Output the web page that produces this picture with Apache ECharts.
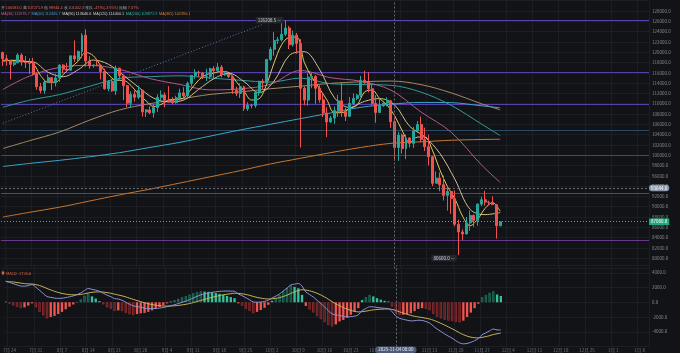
<!DOCTYPE html>
<html>
<head>
<meta charset="utf-8">
<title>BTC 日线</title>
<script src="https://cdn.jsdelivr.net/npm/echarts@6.0.0/dist/echarts.min.js"></script>
<style>
  html, body { margin: 0; padding: 0; background: #121316; }
  #chart { width: 680px; height: 353px; }
</style>
</head>
<body>
<div id="chart"></div>
<script>
// daily candles from 2025-07-23, prices in thousands of USDT
const firstDay = Date.UTC(2025, 6, 23)
const dayCount = 172

const opens = [119.95, 118.75, 118.35, 117.63, 117.95, 119.45, 118.06, 117.95, 117.84, 115.76,
  113.30, 112.55, 114.20, 115.05, 114.10, 114.99, 117.50, 116.70, 116.50, 119.30,
  118.70, 120.15, 123.30, 118.30, 117.35, 117.50, 117.45, 116.25, 112.90, 114.30,
  112.50, 116.90, 115.40, 113.50, 110.10, 111.80, 111.25, 112.60, 108.40, 108.80,
  108.25, 109.25, 111.25, 111.70, 110.70, 110.65, 110.20, 111.15, 112.10, 111.55,
  113.95, 115.50, 116.10, 115.95, 115.30, 115.30, 116.80, 116.45, 117.10, 115.65,
  115.70, 115.25, 112.65, 111.98, 113.30, 109.00, 109.65, 109.65, 112.15, 114.35,
  114.05, 118.60, 120.55, 122.25, 122.40, 123.50, 124.70, 121.45, 123.30, 121.70,
  113.00, 110.70, 115.15, 115.30, 113.00, 110.75, 108.20, 106.45, 107.20, 108.65,
  110.55, 108.45, 107.55, 110.05, 111.00, 111.65, 114.55, 114.10, 112.90, 110.05,
  108.30, 109.60, 110.10, 110.55, 106.50, 101.50, 103.90, 101.30, 103.35, 102.30,
  104.70, 105.95, 103.05, 101.65, 99.70, 94.55, 95.55, 94.25, 92.20, 92.95,
  91.55, 86.60, 85.10, 84.70, 86.85, 88.30, 87.35, 90.50, 91.35, 90.90,
  90.85, 90.40, 86.30]
const closes = [118.75, 118.35, 117.63, 117.95, 119.45, 118.06, 117.95, 117.84, 115.76, 113.30,
  112.55, 114.20, 115.05, 114.10, 114.99, 117.50, 116.70, 116.50, 119.30, 118.70,
  120.15, 123.30, 118.30, 117.35, 117.50, 117.45, 116.25, 112.90, 114.30, 112.50,
  116.90, 115.40, 113.50, 110.10, 111.80, 111.25, 112.60, 108.40, 108.80, 108.25,
  109.25, 111.25, 111.70, 110.70, 110.65, 110.20, 111.15, 112.10, 111.55, 113.95,
  115.50, 116.10, 115.95, 115.30, 115.30, 116.80, 116.45, 117.10, 115.65, 115.70,
  115.25, 112.65, 111.98, 113.30, 109.00, 109.65, 109.65, 112.15, 114.35, 114.05,
  118.60, 120.55, 122.25, 122.40, 123.50, 124.70, 121.45, 123.30, 121.70, 113.00,
  110.70, 115.15, 115.30, 113.00, 110.75, 108.20, 106.45, 107.20, 108.65, 110.55,
  108.45, 107.55, 110.05, 111.00, 111.65, 114.55, 114.10, 112.90, 110.05, 108.30,
  109.60, 110.10, 110.55, 106.50, 101.50, 103.90, 101.30, 103.35, 102.30, 104.70,
  105.95, 103.05, 101.65, 99.70, 94.55, 95.55, 94.25, 92.20, 92.95, 91.55,
  86.60, 85.10, 84.70, 86.85, 88.30, 87.35, 90.50, 91.35, 90.90, 90.85,
  90.40, 86.30, 87.0764]
const highs = [120.10, 119.50, 118.45, 118.30, 119.80, 119.80, 119.25, 118.80, 118.90, 116.10,
  114.00, 114.50, 115.70, 115.10, 115.80, 117.65, 117.70, 117.90, 119.30, 122.30,
  120.30, 123.70, 124.45, 119.20, 117.65, 118.60, 117.55, 116.80, 114.60, 114.80,
  117.40, 117.00, 115.70, 113.65, 112.40, 112.60, 113.50, 112.70, 108.95, 109.50,
  109.90, 111.80, 112.60, 112.20, 113.40, 111.30, 111.55, 112.90, 113.20, 114.30,
  115.40, 116.70, 116.40, 116.10, 116.80, 117.00, 117.30, 117.90, 117.50, 116.30,
  115.90, 115.40, 113.30, 113.95, 113.50, 110.30, 109.90, 112.40, 114.45, 114.80,
  118.65, 121.00, 123.90, 122.95, 125.70, 126.2085, 125.10, 124.20, 123.75, 122.55,
  113.35, 115.90, 116.00, 115.55, 113.60, 111.95, 109.30, 107.60, 109.45, 111.70,
  114.00, 109.20, 111.30, 112.00, 111.90, 115.40, 116.40, 116.10, 113.65, 111.65,
  111.20, 110.55, 111.25, 110.75, 107.30, 104.55, 104.20, 104.00, 103.45, 105.50,
  106.65, 107.50, 105.35, 104.00, 99.85, 96.85, 96.65, 96.05, 93.85, 92.95,
  93.15, 87.50, 85.60, 88.00, 89.25, 88.50, 90.65, 91.95, 93.10, 91.15,
  92.00, 90.45, 87.10]
const lows = [117.30, 117.40, 114.70, 117.30, 117.85, 117.40, 116.95, 115.80, 115.50, 112.70,
  112.00, 111.90, 114.10, 112.65, 113.35, 114.25, 115.90, 116.30, 116.50, 118.10,
  118.20, 118.90, 117.20, 116.80, 117.00, 117.25, 114.70, 112.70, 112.40, 112.30,
  111.70, 114.70, 110.70, 109.30, 109.30, 110.40, 110.90, 107.50, 107.40, 108.00,
  107.30, 108.40, 110.60, 109.30, 110.20, 109.90, 110.00, 110.60, 110.80, 110.90,
  113.45, 114.80, 115.20, 114.80, 114.40, 114.80, 114.70, 116.20, 115.10, 115.40,
  115.00, 111.90, 111.50, 111.10, 108.60, 108.60, 109.10, 109.20, 111.50, 112.70,
  113.95, 118.30, 119.30, 121.60, 122.10, 123.10, 120.60, 121.10, 119.70, 101.50,
  109.70, 109.60, 113.00, 110.00, 110.20, 107.40, 103.50, 106.30, 106.10, 107.45,
  107.45, 106.65, 107.50, 109.70, 110.70, 111.25, 113.85, 112.20, 109.80, 106.30,
  108.20, 109.40, 109.50, 105.30, 98.95, 98.90, 100.30, 99.25, 101.50, 101.40,
  104.30, 102.50, 100.80, 98.00, 94.00, 94.55, 93.00, 91.20, 89.25, 88.60,
  86.20, 80.60, 83.50, 84.65, 85.30, 86.10, 86.30, 90.10, 90.20, 90.25,
  90.35, 83.80, 86.20]

// moving averages
const ma5 = [118.26, 118.42, 118.43, 118.21, 117.81, 115.48, 114.17, 114.18, 115.67, 117.0,
  118.27, 119.95, 119.32, 117.37, 115.68, 114.57, 114.52, 113.54, 111.85, 110.57,
  109.46, 109.85, 110.71, 110.88, 111.13, 112.85, 114.61, 115.63, 115.96, 116.26,
  116.03, 114.25, 112.44, 110.72, 110.96, 113.76, 117.96, 121.46, 122.86, 122.93,
  118.03, 115.17, 112.98, 110.74, 108.25, 108.26, 109.05, 109.74, 112.27, 112.65,
  110.99, 109.72, 107.65, 104.75, 102.47, 103.52, 103.53, 100.98, 97.14, 93.9,
  91.51, 88.18, 86.31, 87.54, 89.68, 90.8, 89.11]
const ma10 = [118.45, 118.26, 118.12, 116.09, 115.25, 116.6, 118.48, 117.66, 115.52, 113.2,
  111.08, 110.36, 110.7, 112.8, 114.85, 115.91, 114.29, 112.15, 114.4, 119.36,
  120.1, 116.73, 111.16, 109.27, 110.46, 111.0, 109.74, 105.58, 103.57, 100.33,
  95.29, 89.5, 88.46, 88.86]
const slowIdx = [0, 7, 15, 23, 31, 39, 47, 55, 63, 71, 79, 87, 95, 103, 111, 119, 127, 132]
const ma30 = [112.77, 115.34, 117.04, 117.45, 116.66, 114.89, 113.73, 112.68, 112.89, 113.77,
  116.44, 115.05, 114.36, 112.63, 108.38, 104.46, 98.14, 94.71]
const ma60 = [109.3, 110.67, 111.77, 113.38, 114.92, 115.25, 115.42, 114.99, 114.55, 114.19,
  114.97, 113.88, 113.73, 113.57, 112.24, 109.68, 106.07, 103.8]
const ma120 = [101.3, 102.8, 104.5, 106.8, 108.8, 110.0, 110.9, 111.8, 112.3, 112.9,
  113.4, 113.95, 114.25, 114.4, 113.7, 112.1, 110.0, 108.8]
const ma200 = [97.8, 98.4, 99.0, 99.7, 100.5, 101.5, 102.5, 103.7, 104.9, 106.0,
  107.1, 108.2, 109.3, 109.9, 110.25, 110.2, 109.6, 109.2]
const ma365 = [88.0, 88.9, 89.9, 91.1, 92.3, 93.4, 94.6, 95.8, 97.0, 98.3,
  99.4, 100.5, 101.5, 102.3, 102.6, 102.9, 103.05, 103.1]

// MACD, thousands
const macdHist = [0.1, -0.2, -0.45, -0.65, -0.8, -0.7, -0.45, -0.15, -0.7, -1.3,
  -1.8, -2.2, -2.0, -1.85, -1.6, -1.3, -0.95, -0.6, -0.3, 0.05,
  0.4, 0.9, 1.2, 0.8, 0.5, 0.15, -0.3, -0.7, -0.9, -1.2,
  -1.1, -1.2, -1.45, -1.65, -1.75, -1.6, -1.5, -1.45, -1.3, -1.1,
  -0.9, -0.65, -0.4, -0.15, 0.1, 0.3, 0.5, 0.7, 0.85, 1.05,
  1.25, 1.4, 1.5, 1.45, 1.42, 1.35, 1.25, 1.15, 1.0, 0.85,
  0.7, 0.55, -0.15, -0.5, -0.9, -1.2, -1.5, -1.3, -1.05, -0.75,
  -0.35, 0.2, 0.6, 1.0, 1.5, 1.9, 2.3, 2.1, 1.9, 1.0,
  -0.5, -1.0, -1.4, -1.9, -2.3, -2.7, -3.1, -3.3, -3.0, -2.6,
  -2.4, -2.1, -1.7, -1.3, -0.8, 0.3, 0.7, 1.0, 0.8, 0.55,
  0.35, 0.2, 0.1, -0.6, -1.5, -1.75, -1.7, -1.6, -1.5, -1.2,
  -0.9, -0.8, -0.9, -1.1, -1.6, -2.0, -2.2, -2.4, -2.5, -2.55,
  -2.7, -2.75, -2.5, -2.0, -1.4, -0.8, -0.2, 0.7, 1.0, 1.3,
  1.5, 1.05, 0.85]
const macdDif = [2.86, 2.69, 2.52, 2.36, 2.20, 2.18, 2.26, 2.40, 2.05, 1.62,
  1.19, 0.77, 0.67, 0.56, 0.53, 0.55, 0.63, 0.74, 0.86, 1.04,
  1.26, 1.60, 1.87, 1.75, 1.65, 1.49, 1.23, 0.96, 0.77, 0.50,
  0.44, 0.27, 0.00, -0.27, -0.49, -0.58, -0.68, -0.80, -0.85, -0.86,
  -0.85, -0.79, -0.71, -0.60, -0.46, -0.33, -0.18, -0.01, 0.15, 0.36,
  0.58, 0.80, 1.00, 1.12, 1.24, 1.34, 1.42, 1.48, 1.51, 1.52,
  1.51, 1.49, 1.13, 0.90, 0.61, 0.34, 0.04, 0.01, 0.03, 0.11,
  0.27, 0.57, 0.83, 1.13, 1.53, 1.92, 2.35, 2.46, 2.55, 2.20,
  1.40, 1.05, 0.71, 0.27, -0.16, -0.63, -1.14, -1.57, -1.72, -1.78,
  -1.92, -1.98, -1.95, -1.88, -1.71, -1.13, -0.86, -0.61, -0.63, -0.70,
  -0.77, -0.82, -0.86, -1.27, -1.87, -2.17, -2.32, -2.43, -2.53, -2.50,
  -2.44, -2.47, -2.61, -2.82, -3.23, -3.63, -3.95, -4.29, -4.59, -4.87,
  -5.21, -5.51, -5.64, -5.59, -5.43, -5.21, -4.93, -4.41, -4.16, -3.88,
  -3.63, -3.75, -3.76]
const macdDea = [2.81, 2.79, 2.75, 2.68, 2.60, 2.53, 2.49, 2.47, 2.40, 2.27,
  2.09, 1.87, 1.67, 1.49, 1.33, 1.20, 1.10, 1.04, 1.01, 1.02,
  1.06, 1.15, 1.27, 1.35, 1.40, 1.41, 1.38, 1.31, 1.22, 1.10,
  0.99, 0.87, 0.73, 0.56, 0.39, 0.23, 0.08, -0.07, -0.20, -0.31,
  -0.40, -0.47, -0.51, -0.52, -0.51, -0.48, -0.43, -0.36, -0.28, -0.17,
  -0.05, 0.10, 0.25, 0.39, 0.53, 0.67, 0.79, 0.91, 1.01, 1.09,
  1.16, 1.22, 1.20, 1.15, 1.06, 0.94, 0.79, 0.66, 0.56, 0.48,
  0.45, 0.47, 0.53, 0.63, 0.78, 0.97, 1.20, 1.41, 1.60, 1.70,
  1.65, 1.55, 1.41, 1.22, 0.99, 0.72, 0.41, 0.08, -0.22, -0.48,
  -0.72, -0.93, -1.10, -1.23, -1.31, -1.28, -1.21, -1.11, -1.03, -0.98,
  -0.94, -0.92, -0.91, -0.97, -1.12, -1.30, -1.47, -1.63, -1.78, -1.90,
  -1.99, -2.07, -2.16, -2.27, -2.43, -2.63, -2.85, -3.09, -3.34, -3.59,
  -3.86, -4.14, -4.39, -4.59, -4.73, -4.81, -4.83, -4.76, -4.66, -4.53,
  -4.38, -4.27, -4.19]

// drawn horizontal levels and the dotted trend line
const levels = [126.25, 116.15, 109.9, 104.9, 100.0, 92.7, 83.45]
const trendFrom = [0, 106.2]
const trendTo = [69, 125.4]
const lastPrice = 87.0764
const crossDay = 104
const crossPrice = 93.644

const days = []
for (let i = 0; i < dayCount; i++) {
  days.push(new Date(firstDay + i * 86400000).toISOString().slice(0, 10))
}

const candles = opens.map((o, i) => [o, closes[i], lows[i], highs[i]])
const everyN = (arr, step) => arr.map((v, k) => [k * step, v])
const atSlow = arr => arr.map((v, k) => [slowIdx[k], v])
const fmtPrice = v => (v * 1000).toFixed(1)
const weekTick = i => (i - 1) % 7 === 0
const gridColor = '#1c1e24'
const labelFont = '"Noto Sans CJK SC", "Noto Sans", sans-serif'
const upColor = '#26a69a'
const downColor = '#ef5350'

const levelColors = ['#5a42b0', '#5840aa', '#5840aa', '#2d4a64', '#2a586a', '#74396c', '#65398a']

const macdBars = macdHist.map((h, i) => {
  const prev = i ? macdHist[i - 1] : 0
  const growing = Math.abs(h) > Math.abs(prev)
  const up = h >= 0
  if (growing) {
    return { value: h, itemStyle: { color: up ? '#123a30' : '#3d1618', borderColor: up ? '#1f7a63' : '#9a3034', borderWidth: 0.8 } }
  }
  return { value: h, itemStyle: { color: up ? '#33c39c' : '#f0554f' } }
})

function maLine (data, color) {
  return {
    type: 'line', data, xAxisIndex: 0, yAxisIndex: 0, symbol: 'none', smooth: 0.35,
    lineStyle: { width: 1, color }, silent: true, z: 3
  }
}

const chart = echarts.init(document.getElementById('chart'))

chart.setOption({
  backgroundColor: '#121316',
  animation: false,
  textStyle: { fontFamily: labelFont },
  grid: [
    { left: 1, width: 648, top: 0.7, height: 267.8 },
    { left: 1, width: 648, top: 265.4, height: 81.1 }
  ],
  xAxis: [
    {
      type: 'category', data: days, gridIndex: 0,
      axisLine: { show: false }, axisTick: { show: false }, axisLabel: { show: false },
      splitLine: { show: true, interval: weekTick, lineStyle: { color: gridColor } },
      axisPointer: {
        show: true, status: 'show', value: crossDay, type: 'line',
        lineStyle: { color: '#666a74', type: [2, 2], width: 1 }, label: { show: false }
      }
    },
    {
      type: 'category', data: days, gridIndex: 1,
      axisLine: { show: false }, axisTick: { show: false },
      axisLabel: {
        interval: weekTick, color: '#70747e', fontSize: 4.5, margin: 1.5,
        formatter: v => (+v.slice(5, 7)) + '月 ' + (+v.slice(8, 10))
      },
      splitLine: { show: true, interval: weekTick, lineStyle: { color: gridColor } },
      axisPointer: {
        show: true, status: 'show', value: crossDay, type: 'line',
        lineStyle: { color: '#666a74', type: [2, 2], width: 1 },
        label: {
          show: true, formatter: () => '2025-11-04 08:00', fontSize: 4.5, color: '#e8ebf2',
          backgroundColor: '#4d5b78', padding: [1, 3], margin: 1
        }
      }
    }
  ],
  yAxis: [
    {
      gridIndex: 0, position: 'right', min: 78, max: 130, interval: 2, scale: true,
      axisLine: { show: false }, axisTick: { show: false },
      axisLabel: { formatter: fmtPrice, color: '#858993', fontSize: 4.5, margin: 3, showMinLabel: false, showMaxLabel: false },
      splitLine: { lineStyle: { color: gridColor } },
      axisPointer: {
        show: true, status: 'show', value: crossPrice, type: 'line',
        lineStyle: { color: '#666a74', type: [2, 2], width: 1 },
        label: {
          show: true, formatter: p => fmtPrice(p.value), fontSize: 4.5, color: '#ffffff',
          backgroundColor: '#8a96ab', padding: [1, 2], margin: 0
        }
      }
    },
    {
      gridIndex: 1, position: 'right', min: -6, max: 5, interval: 2,
      axisLine: { show: false }, axisTick: { show: false },
      axisLabel: { formatter: fmtPrice, color: '#858993', fontSize: 4.5, margin: 3, showMinLabel: false, showMaxLabel: false },
      splitLine: { lineStyle: { color: gridColor } }
    }
  ],
  series: [
    {
      type: 'candlestick', data: candles, xAxisIndex: 0, yAxisIndex: 0, barWidth: '66%', z: 4,
      itemStyle: { color: upColor, color0: downColor, borderColor: upColor, borderColor0: downColor, borderWidth: 1 },
      markPoint: {
        symbol: 'circle', symbolSize: 0.1, silent: true,
        label: {
          show: true, position: 'left', distance: 2, fontSize: 4.5, color: '#d4d7de',
          backgroundColor: '#24272e', padding: [1, 2],
          formatter: p => fmtPrice(p.value) + ' —'
        },
        data: [
          { type: 'max', valueDim: 'highest' },
          { type: 'min', valueDim: 'lowest', label: { offset: [0, 3] } }
        ]
      },
      markLine: {
        silent: true, symbol: 'none', animation: false, z: 2,
        label: { show: false },
        data: levels.map((v, k) => ({ yAxis: v, lineStyle: { color: levelColors[k], width: 1.2, type: 'solid', opacity: 1 } }))
          .concat([
            [{ coord: trendFrom, lineStyle: { color: '#5478b0', width: 1, type: [1, 2] } }, { coord: trendTo }],
            {
              yAxis: lastPrice, lineStyle: { color: '#2ebd85', width: 1, type: [1, 2] },
              label: {
                show: true, position: 'end', distance: 0, formatter: p => fmtPrice(p.value),
                fontSize: 4.5, color: '#ffffff', backgroundColor: '#1fa87a', padding: [1, 2]
              }
            }
          ])
      }
    },
    maLine(atSlow(ma365), '#c8762e'),
    maLine(atSlow(ma200), '#3aa6c8'),
    maLine(atSlow(ma120), '#a48a62'),
    maLine(atSlow(ma60), '#2f9b95'),
    maLine(atSlow(ma30), '#b4588a'),
    maLine(everyN(ma10, 4), '#cdbf8e'),
    maLine(everyN(ma5, 2), '#e6c85a'),
    {
      type: 'bar', data: macdBars, xAxisIndex: 1, yAxisIndex: 1, barWidth: '62%', silent: true
    },
    {
      type: 'line', data: macdDea, xAxisIndex: 1, yAxisIndex: 1, symbol: 'none', smooth: 0.3,
      lineStyle: { width: 1, color: '#c9b45a' }, silent: true
    },
    {
      type: 'line', data: macdDif, xAxisIndex: 1, yAxisIndex: 1, symbol: 'none', smooth: 0.3,
      lineStyle: { width: 1, color: '#8f93d4' }, silent: true
    }
  ],
  graphic: [
    {
      type: 'text', x: 1, y: 7.5, z: 100, silent: true,
      style: {
        text: '{g|开} {r|106583.0} {g|高} {r|107271.9} {g|低} {r|98944.4} {g|收} {r|101402.3} {g|涨跌} {r|-4795(-3.95%)} {g|振幅} {r|7.07%}',
        fontSize: 3.8, verticalAlign: 'middle', fontFamily: labelFont,
        rich: { g: { fill: '#9a9ea8', fontSize: 3.8 }, r: { fill: '#e0625c', fontSize: 3.8 } }
      }
    },
    {
      type: 'text', x: 1, y: 14, z: 100, silent: true,
      style: {
        text: '{a|MA(30) 111976.7}  {b|MA(60) 112465.7}  {c|MA(90) 113646.6}  {d|MA(120) 114400.1}  {e|MA(200) 109871.9}  {f|MA(365) 102390.1}',
        fontSize: 3.8, verticalAlign: 'middle', fontFamily: labelFont,
        rich: {
          a: { fill: '#c45e98', fontSize: 3.8 }, b: { fill: '#4f9ad6', fontSize: 3.8 },
          c: { fill: '#d8d8d8', fontSize: 3.8 }, d: { fill: '#cfcfcf', fontSize: 3.8 },
          e: { fill: '#2fb3a6', fontSize: 3.8 }, f: { fill: '#d0843a', fontSize: 3.8 }
        }
      }
    },
    {
      type: 'text', x: 1, y: 273.5, z: 100, silent: true,
      style: { text: '◉ MACD -1735.6', fontSize: 4, verticalAlign: 'middle', fill: '#d86a4a', fontFamily: labelFont }
    }
  ]
})
</script>
</body>
</html>
